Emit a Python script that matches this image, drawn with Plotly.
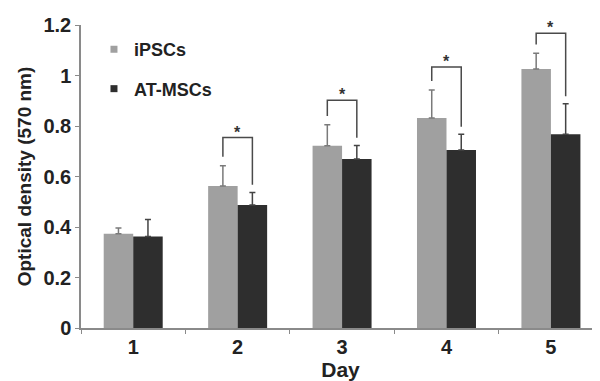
import plotly.graph_objects as go

days = ["1", "2", "3", "4", "5"]
ipsc = [0.373, 0.562, 0.722, 0.832, 1.026]
ipsc_err = [0.023, 0.081, 0.083, 0.111, 0.062]
atmsc = [0.362, 0.487, 0.669, 0.705, 0.767]
atmsc_err = [0.068, 0.050, 0.054, 0.062, 0.121]
sig_days = [1, 2, 3, 4]               # indices of days with significance bracket
bracket_tops = [0.754, 0.902, 1.034, 1.167]
y_ticks = [0, 0.2, 0.4, 0.6, 0.8, 1, 1.2]
y_ticktext = ["0", "0.2", "0.4", "0.6", "0.8", "1", "1.2"]

C_I = "#a0a0a0"
C_A = "#2e2e2e"
FONT = "Arial, Liberation Sans, sans-serif"
BARGAP = 0.435

fig = go.Figure()
fig.add_trace(go.Bar(
    x=days, y=ipsc, name="iPSCs", marker=dict(color=C_I, line=dict(width=0)),
    error_y=dict(type="data", array=ipsc_err, arrayminus=[0]*5, symmetric=False,
                 color="#7a7a7a", thickness=1.5, width=3),
    showlegend=False))
fig.add_trace(go.Bar(
    x=days, y=atmsc, name="AT-MSCs", marker=dict(color=C_A, line=dict(width=0)),
    error_y=dict(type="data", array=atmsc_err, arrayminus=[0]*5, symmetric=False,
                 color="#444444", thickness=1.5, width=3),
    showlegend=False))
# legend entries (small square swatches)
fig.add_trace(go.Scatter(x=[None], y=[None], mode="markers", name="iPSCs",
                         marker=dict(symbol="square", size=7, color=C_I),
                         legendgroup="a"))
fig.add_trace(go.Scatter(x=[None], y=[None], mode="markers", name="AT-MSCs",
                         marker=dict(symbol="square", size=7, color=C_A),
                         legendgroup="b"))

half = (1 - BARGAP) / 4
shapes = []
annotations = []
for i, top in zip(sig_days, bracket_tops):
    xl, xr = i - half, i + half
    yl = ipsc[i] + ipsc_err[i] + 0.035
    yr = atmsc[i] + atmsc_err[i] + 0.03
    path = f"M {xl},{yl} L {xl},{top} L {xr},{top} L {xr},{yr}"
    shapes.append(dict(type="path", path=path, xref="x", yref="y",
                       line=dict(color="#4a4a4a", width=1.5)))
    annotations.append(dict(x=i, y=top, xref="x", yref="y", text="*",
                            showarrow=False, yanchor="bottom", yshift=-5,
                            font=dict(family=FONT, size=16, color="#333333", weight="bold")))

# the page body adds an 8px offset, so the figure is sized to end at the window edge
fig.update_layout(
    width=592, height=373,
    margin=dict(l=73, r=0, t=17, b=53),
    paper_bgcolor="white", plot_bgcolor="white",
    barmode="group", bargap=BARGAP, bargroupgap=0,
    font=dict(family=FONT, color="#222222", weight="bold"),
    shapes=shapes, annotations=annotations,
    legend=dict(x=0.025, y=0.98, xanchor="left", yanchor="top",
                bgcolor="rgba(0,0,0,0)", tracegroupgap=13, traceorder="grouped",
                font=dict(family=FONT, size=18, color="#222222", weight="bold"),
                itemwidth=30),
)
fig.update_xaxes(
    type="category", range=[-0.5, 4.47], automargin=False,
    showline=True, linecolor="#8a8a8a", linewidth=1.5,
    ticks="outside", ticklen=4, tickcolor="#8a8a8a", tickson="boundaries",
    tickfont=dict(family=FONT, size=20, color="#222222", weight="bold"),
    title=dict(text="Day", font=dict(family=FONT, size=21, color="#222222", weight="bold"),
               standoff=3),
    showgrid=False, zeroline=False)
fig.update_yaxes(
    range=[0, 1.2], tickvals=y_ticks, ticktext=y_ticktext, automargin=False,
    showline=True, linecolor="#8a8a8a", linewidth=1.5,
    ticks="outside", ticklen=4, tickcolor="#8a8a8a",
    tickfont=dict(family=FONT, size=20, color="#222222", weight="bold"),
    title=dict(text="Optical density (570 nm)",
               font=dict(family=FONT, size=19, color="#222222", weight="bold"),
               standoff=7),
    showgrid=False, zeroline=False)

fig.write_html("out.html")
